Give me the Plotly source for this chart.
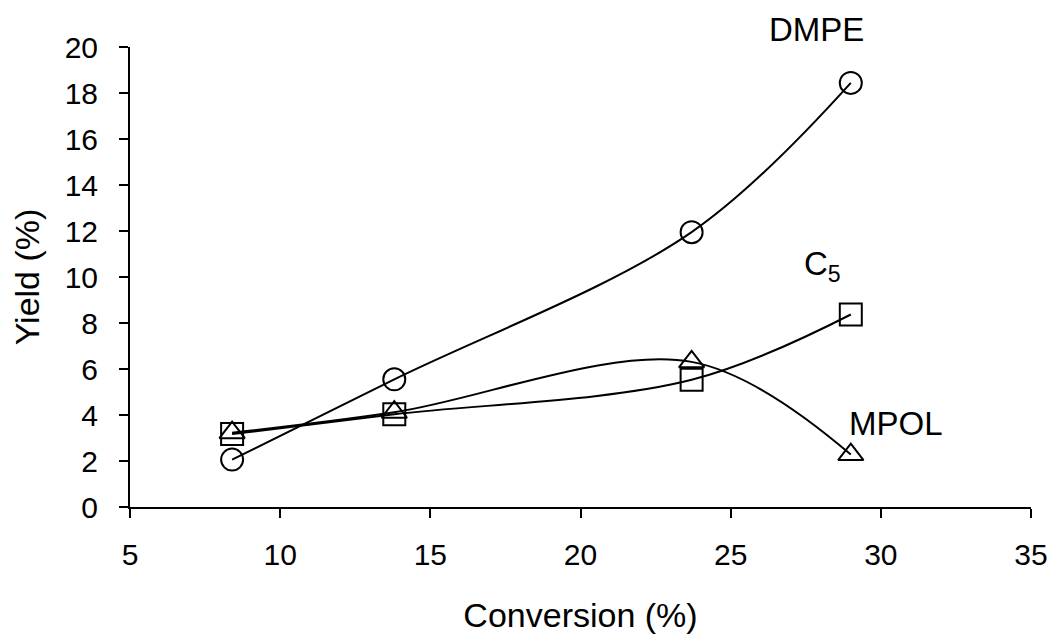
import plotly.graph_objects as go

conversion = [8.4, 13.8, 23.7, 29.0]
dmpe = [2.06, 5.55, 11.95, 18.44]
c5 = [3.17, 4.03, 5.53, 8.37]
mpol = [3.23, 4.12, 6.31, 2.28]

x_ticks = [5, 10, 15, 20, 25, 30, 35]
y_ticks = [0, 2, 4, 6, 8, 10, 12, 14, 16, 18, 20]

FONT = "Liberation Sans, Arial, sans-serif"

fig = go.Figure()
line = dict(color="black", width=2, shape="spline", smoothing=1)
fig.add_trace(go.Scatter(x=conversion, y=dmpe, mode="lines+markers", name="DMPE",
                         line=line,
                         marker=dict(symbol="circle-open", size=22, color="black", line=dict(width=2))))
fig.add_trace(go.Scatter(x=conversion, y=c5, mode="lines+markers", name="C5",
                         line=line,
                         marker=dict(symbol="square-open", size=22, color="black", line=dict(width=2))))
fig.add_trace(go.Scatter(x=conversion, y=mpol, mode="lines+markers", name="MPOL",
                         line=line,
                         marker=dict(symbol="triangle-up-open", size=22, color="black", line=dict(width=2))))

ann_font = dict(size=33, color="black", family=FONT)
fig.add_annotation(x=27.87, y=1.037, xref="x", yref="paper", text="DMPE", showarrow=False,
                   xanchor="center", yanchor="middle", font=ann_font)
fig.add_annotation(x=28.05, y=10.5, text="C<sub>5</sub>", showarrow=False,
                   xanchor="center", yanchor="middle", font=ann_font)
fig.add_annotation(x=30.52, y=3.64, text="MPOL", showarrow=False,
                   xanchor="center", yanchor="middle", font=ann_font)

fig.update_layout(
    width=1052, height=632,
    margin=dict(l=120, r=24, t=39, b=131),
    paper_bgcolor="white", plot_bgcolor="white",
    showlegend=False,
    font=dict(family=FONT, color="black", size=30),
)
fig.update_xaxes(range=[5, 35], tickvals=x_ticks, showgrid=False, zeroline=False,
                 showline=True, linecolor="black", linewidth=2,
                 ticks="outside", ticklen=9, tickwidth=2, tickcolor="black",
                 ticklabelstandoff=11,
                 tickfont=dict(size=30),
                 title=dict(text="Conversion (%)", font=dict(size=34), standoff=33))
fig.update_yaxes(range=[0, 20], tickvals=y_ticks, showgrid=False, zeroline=False,
                 showline=True, linecolor="black", linewidth=2,
                 ticks="outside", ticklen=9, tickwidth=2, tickcolor="black",
                 ticklabelstandoff=15,
                 tickfont=dict(size=30),
                 title=dict(text="Yield (%)", font=dict(size=34), standoff=21))

fig.write_html("out.html")
